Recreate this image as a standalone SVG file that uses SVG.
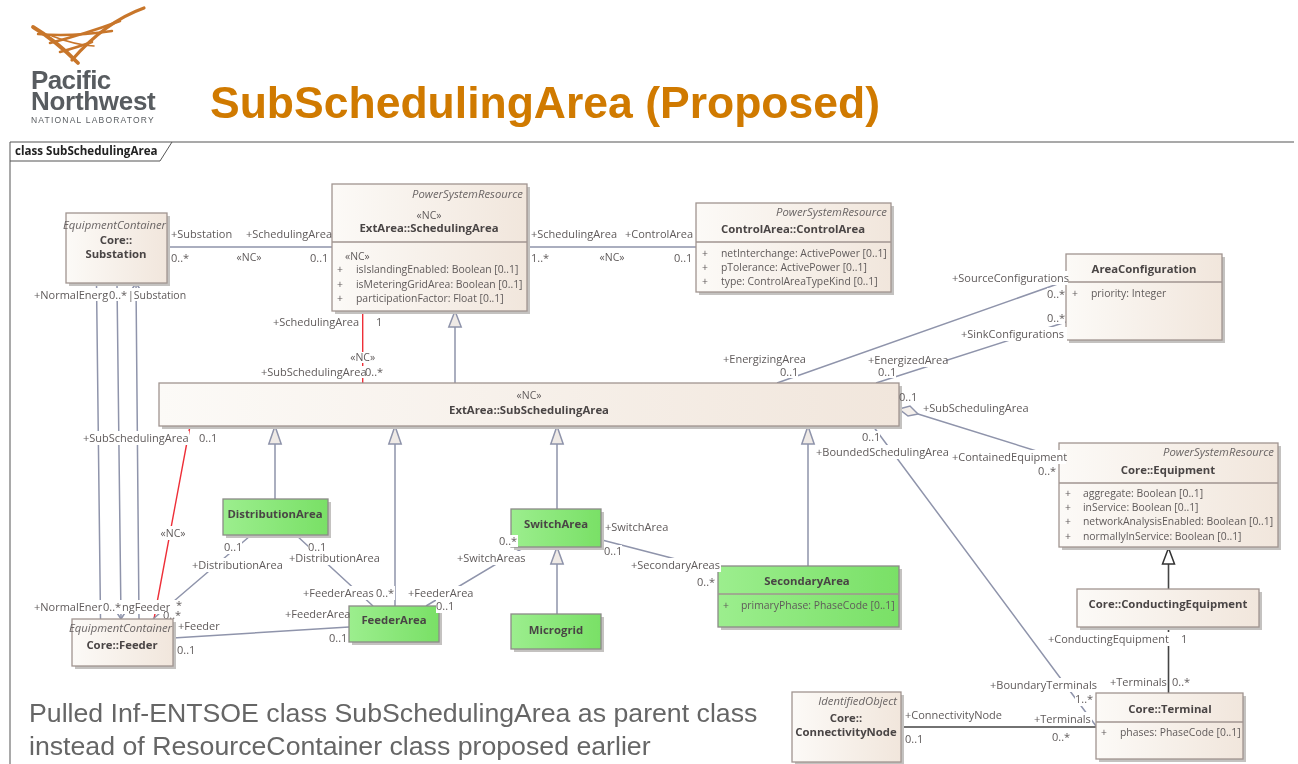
<svg xmlns="http://www.w3.org/2000/svg" width="1298" height="764" viewBox="0 0 1298 764">
<style>
text{font-family:"Open Sans","Liberation Sans",sans-serif;font-size:11px;fill:#5f5a5a}
.b{font-weight:700;fill:#4a4545;text-anchor:middle;font-size:11.35px}
.i{font-style:italic;text-anchor:end;fill:#6a6565;font-size:11.3px}
.a{font-size:10.4px}
.m{text-anchor:middle;font-size:10.5px}
.lf{font-family:"Liberation Sans",sans-serif;fill:#585c60}
.n{stroke:#a09490;stroke-width:1.3;fill:url(#cream)}
.g{stroke:#8c8a88;stroke-width:1.3;fill:url(#green)}
.s{fill:#c4c2c0}
.d{stroke:#a09490;stroke-width:1.3;fill:none}
.c{stroke:#8f94ab;stroke-width:1.5;fill:none}
.k{stroke:#454545;stroke-width:1.6;fill:none}
.r{stroke:#ee2f38;stroke-width:1.4;fill:none}
.t{fill:#efeae6;stroke:#8f94ab;stroke-width:1.5}
.w{fill:#fff}
.lg{stroke:#c8762c;fill:none;stroke-linecap:round}
</style>
<defs>
<linearGradient id="cream" x1="0" x2="1" y1="0" y2="0"><stop offset="0" stop-color="#fcfaf7"/><stop offset="1" stop-color="#f1e6dc"/></linearGradient>
<linearGradient id="green" x1="0" x2="1" y1="0" y2="0"><stop offset="0" stop-color="#9cee8e"/><stop offset="1" stop-color="#79e066"/></linearGradient>
<filter id="soft" x="0" y="0" width="100%" height="100%" filterUnits="userSpaceOnUse"><feGaussianBlur stdDeviation="0.4"/></filter>
</defs>
<rect width="1298" height="764" fill="#fff"/>
<g filter="url(#soft)">
<g id="logo">
<path class="lg" stroke-width="3.200" d="M144 8 Q105 22 72 60"/>
<path class="lg" stroke-width="3.800" d="M33 27 Q55 40 78 63"/>
<path class="lg" stroke-width="2.400" d="M38 34 Q70 37 112 31"/>
<path class="lg" stroke-width="2.600" d="M50 43 Q85 34 120 21"/>
<path class="lg" stroke-width="2.600" d="M60 52 Q78 47 92 42"/>
<path class="lg" stroke-width="1.600" d="M52 36 Q75 45 94 46"/>
</g>
<text class="lf" x="31" y="89" style="font-size:26px;font-weight:700;letter-spacing:-.6px">Pacific</text>
<text class="lf" x="31" y="110" style="font-size:26px;font-weight:700;letter-spacing:-.3px">Northwest</text>
<text class="lf" x="31" y="123" style="font-size:8.500px;letter-spacing:1.200px">NATIONAL LABORATORY</text>
<text x="210" y="118" style="font-family:'Liberation Sans',sans-serif;font-size:44.500px;font-weight:700;fill:#d07a00">SubSchedulingArea (Proposed)</text>
<text x="29" y="722" style="font-family:'Liberation Sans',sans-serif;font-size:26.700px;fill:#666">Pulled Inf-ENTSOE class SubSchedulingArea as parent class</text>
<text x="29" y="755" style="font-family:'Liberation Sans',sans-serif;font-size:26.700px;fill:#666">instead of ResourceContainer class proposed earlier</text>
<g id="frame">
<path d="M10 764V142H1294" fill="none" stroke="#555" stroke-width="1"/>
<path d="M10 161H160L172 142" fill="none" stroke="#555" stroke-width="1"/>
<text x="15" y="155" style="font-weight:700;fill:#222;font-size:11.600px">class SubSchedulingArea</text>
</g>
<g id="connectors">
<path class="c" d="M167 247H332M527 247H696"/>
<path class="c" d="M96.500 283L100.500 619M117 283L121 619M136 283L139 619"/>
<path class="c" d="M131.500 290L136 283L140.500 290M116.500 612L121 619L125.500 612"/>
<path class="r" d="M362.700 311V383M190 426L154 619"/>
<path class="c" d="M250 536L153 619M296 535L373 606M523 548L426 606M602 540L718 570M173 638L349 627"/>
<path class="c" d="M1066 281L777 383M1066 322L876 383M918 414L1059 458M873 426L1096 726"/>
<path class="c" d="M275 444V499M395 444V606M557 444V509M808 444V566M557 564V614M455 327V383"/>
<path class="k" d="M1168.500 564V589M1168.500 627V693M901 727H1096"/>
<path class="t" d="M455 311L448.800 327H461.200ZM275 426L268.800 444H281.200ZM395 426L388.800 444H401.200ZM557 426L550.800 444H563.200ZM808 426L801.800 444H814.200ZM557 547L550.800 564H563.200Z"/>
<path d="M1168.500 548L1162.500 564H1174.500Z" fill="#fff" stroke="#333" stroke-width="1.500"/>
<path d="M899 409L910 406L918 414L908 416Z" fill="#f5f0ec" stroke="#8f94ab" stroke-width="1.500"/>
<rect class="w" x="160" y="608" width="22" height="11"/>
<text x="163" y="619">0..*</text>
</g>
<g id="substation"><rect class="s" x="69" y="216" width="101" height="70"/><rect class="n" x="66" y="213" width="101" height="70"/>
<text class="i" x="166" y="229">EquipmentContainer</text><text class="b" x="116" y="244">Core::</text><text class="b" x="116" y="258">Substation</text></g>
<g id="scheduling-area"><rect class="s" x="335" y="187" width="195" height="127"/><rect class="n" x="332" y="184" width="195" height="127"/><path class="d" d="M332 242H527"/>
<text class="i" x="523" y="198">PowerSystemResource</text><text class="m" x="429" y="219">«NC»</text><text class="b" x="429" y="232">ExtArea::SchedulingArea</text>
<text class="a" x="345" y="260">«NC»</text><text class="a" x="337" y="273">+</text><text class="a" x="356" y="273">isIslandingEnabled: Boolean [0..1]</text><text class="a" x="337" y="288">+</text><text class="a" x="356" y="288">isMeteringGridArea: Boolean [0..1]</text><text class="a" x="337" y="302">+</text><text class="a" x="356" y="302">participationFactor: Float [0..1]</text></g>
<g id="control-area"><rect class="s" x="699" y="206" width="195" height="89"/><rect class="n" x="696" y="203" width="195" height="89"/><path class="d" d="M696 242H891"/>
<text class="i" x="887" y="216">PowerSystemResource</text><text class="b" x="793" y="233">ControlArea::ControlArea</text>
<text class="a" x="702" y="257">+</text><text class="a" x="721" y="257">netInterchange: ActivePower [0..1]</text><text class="a" x="702" y="271">+</text><text class="a" x="721" y="271">pTolerance: ActivePower [0..1]</text><text class="a" x="702" y="285">+</text><text class="a" x="721" y="285">type: ControlAreaTypeKind [0..1]</text></g>
<g id="area-configuration"><rect class="s" x="1069" y="257" width="156" height="86"/><rect class="n" x="1066" y="254" width="156" height="86"/><path class="d" d="M1066 282H1222"/>
<text class="b" x="1144" y="273">AreaConfiguration</text><text class="a" x="1072" y="297">+</text><text class="a" x="1091" y="297">priority: Integer</text></g>
<g id="sub-scheduling-area"><rect class="s" x="162" y="386" width="740" height="43"/><rect class="n" x="159" y="383" width="740" height="43"/>
<text class="m" x="529" y="399">«NC»</text><text class="b" x="529" y="414">ExtArea::SubSchedulingArea</text></g>
<g id="equipment"><rect class="s" x="1062" y="446" width="219" height="104"/><rect class="n" x="1059" y="443" width="219" height="104"/><path class="d" d="M1059 483H1278"/>
<text class="i" x="1274" y="456">PowerSystemResource</text><text class="b" x="1168" y="474">Core::Equipment</text>
<text class="a" x="1065" y="497">+</text><text class="a" x="1083" y="497">aggregate: Boolean [0..1]</text><text class="a" x="1065" y="511">+</text><text class="a" x="1083" y="511">inService: Boolean [0..1]</text><text class="a" x="1065" y="525">+</text><text class="a" x="1083" y="525">networkAnalysisEnabled: Boolean [0..1]</text><text class="a" x="1065" y="540">+</text><text class="a" x="1083" y="540">normallyInService: Boolean [0..1]</text></g>
<g id="conducting-equipment"><rect class="s" x="1080" y="592" width="182" height="38"/><rect class="n" x="1077" y="589" width="182" height="38"/>
<text class="b" x="1168" y="608">Core::ConductingEquipment</text></g>
<g id="terminal"><rect class="s" x="1099" y="696" width="147" height="66"/><rect class="n" x="1096" y="693" width="147" height="66"/><path class="d" d="M1096 722H1243"/>
<text class="b" x="1170" y="713">Core::Terminal</text><text class="a" x="1101" y="736">+</text><text class="a" x="1120" y="736">phases: PhaseCode [0..1]</text></g>
<g id="connectivity-node"><rect class="s" x="795" y="695" width="109" height="70"/><rect class="n" x="792" y="692" width="109" height="70"/>
<text class="i" x="897" y="705">IdentifiedObject</text><text class="b" x="846" y="722">Core::</text><text class="b" x="846" y="736">ConnectivityNode</text></g>
<g id="feeder"><rect class="s" x="75" y="622" width="101" height="47"/><rect class="n" x="72" y="619" width="101" height="47"/>
<text class="i" x="172" y="632">EquipmentContainer</text><text class="b" x="122" y="649">Core::Feeder</text></g>
<g id="distribution-area"><rect class="s" x="226" y="502" width="105" height="36"/><rect class="g" x="223" y="499" width="105" height="36"/><text class="b" x="275" y="518">DistributionArea</text></g>
<g id="feeder-area"><rect class="s" x="352" y="609" width="90" height="36"/><rect class="g" x="349" y="606" width="90" height="36"/><text class="b" x="394" y="624">FeederArea</text></g>
<g id="switch-area"><rect class="s" x="514" y="512" width="90" height="38"/><rect class="g" x="511" y="509" width="90" height="38"/><text class="b" x="556" y="528">SwitchArea</text></g>
<g id="microgrid"><rect class="s" x="514" y="617" width="90" height="35"/><rect class="g" x="511" y="614" width="90" height="35"/><text class="b" x="556" y="634">Microgrid</text></g>
<g id="secondary-area"><rect class="s" x="721" y="569" width="181" height="61"/><rect class="g" x="718" y="566" width="181" height="61"/><path class="d" d="M718 594H899"/>
<text class="b" x="807" y="585">SecondaryArea</text><text class="a" x="723" y="609">+</text><text class="a" x="741" y="609">primaryPhase: PhaseCode [0..1]</text></g>
<g id="connector-label-backgrounds">
<rect class="w" x="34" y="288" width="152" height="13"/>
<rect class="w" x="83" y="431" width="106" height="14"/>
<rect class="w" x="34" y="600" width="148" height="8"/>
<rect class="w" x="34" y="600" width="130" height="14"/>
<rect class="w" x="160" y="526" width="28" height="14"/>
<rect class="w" x="261" y="366" width="122" height="12"/>
<rect class="w" x="350" y="352" width="26" height="11"/>
<rect class="w" x="192" y="558" width="90" height="14"/>
<rect class="w" x="224" y="541" width="18" height="13"/>
<rect class="w" x="289" y="551" width="90" height="14"/>
<rect class="w" x="308" y="541" width="18" height="10"/>
<rect class="w" x="303" y="586" width="92" height="14"/>
<rect class="w" x="408" y="586" width="66" height="14"/>
<rect class="w" x="436" y="599" width="20" height="14"/>
<rect class="w" x="457" y="551" width="68" height="14"/>
<rect class="w" x="499" y="535" width="19" height="12"/>
<rect class="w" x="604" y="545" width="18" height="12"/>
<rect class="w" x="631" y="558" width="90" height="14"/>
<rect class="w" x="780" y="366" width="18" height="12"/>
<rect class="w" x="868" y="353" width="78" height="14"/>
<rect class="w" x="878" y="366" width="18" height="12"/>
<rect class="w" x="952" y="271" width="116" height="14"/>
<rect class="w" x="1047" y="288" width="18" height="13"/>
<rect class="w" x="1047" y="312" width="18" height="12"/>
<rect class="w" x="961" y="327" width="106" height="14"/>
<rect class="w" x="862" y="431" width="18" height="13"/>
<rect class="w" x="816" y="445" width="132" height="14"/>
<rect class="w" x="952" y="450" width="114" height="14"/>
<rect class="w" x="1048" y="632" width="124" height="14"/>
<rect class="w" x="990" y="678" width="105" height="14"/>
<rect class="w" x="1075" y="693" width="18" height="13"/>
<rect class="w" x="1034" y="712" width="58" height="14"/>
</g>
<g id="connector-labels">
<text x="171" y="238">+Substation</text><text x="246" y="238">+SchedulingArea</text>
<text x="171" y="262">0..*</text><text class="m" x="249" y="261">«NC»</text><text x="310" y="262">0..1</text>
<text x="531" y="238">+SchedulingArea</text><text x="625" y="238">+ControlArea</text>
<text x="531" y="262">1..*</text><text class="m" x="612" y="261">«NC»</text><text x="674" y="262">0..1</text>
<text x="34" y="299">+NormalEnerg</text><text x="109" y="299">0..*</text><text x="128" y="299" style="font-size:10.5px">|Substation</text>
<text x="273" y="326">+SchedulingArea</text><text x="376" y="326">1</text>
<text class="m" x="362.700" y="361">«NC»</text><text x="261" y="376">+SubSchedulingArea</text><text x="365" y="376">0..*</text>
<text x="83" y="442">+SubSchedulingArea</text><text x="199" y="442">0..1</text>
<text class="m" x="173" y="537">«NC»</text>
<text x="34" y="611">+NormalEner</text><text x="103" y="611">0..*</text><text x="122" y="611">ngFeeder</text><text x="176" y="609">*</text>
<text x="178" y="630">+Feeder</text><text x="177" y="654">0..1</text>
<text x="224" y="551">0..1</text><text x="192" y="569">+DistributionArea</text>
<text x="308" y="551">0..1</text><text x="289" y="562">+DistributionArea</text>
<text x="303" y="597">+FeederAreas</text><text x="376" y="597">0..*</text>
<text x="408" y="597">+FeederArea</text><text x="436" y="610">0..1</text>
<text x="285" y="618">+FeederArea</text><text x="329" y="642">0..1</text>
<text x="605" y="531">+SwitchArea</text><text x="604" y="555">0..1</text>
<text x="631" y="569">+SecondaryAreas</text><text x="697" y="586">0..*</text>
<text x="499" y="545">0..*</text><text x="457" y="562">+SwitchAreas</text>
<text x="723" y="363">+EnergizingArea</text><text x="780" y="376">0..1</text>
<text x="868" y="364">+EnergizedArea</text><text x="878" y="376">0..1</text>
<text x="952" y="282">+SourceConfigurations</text><text x="1047" y="298">0..*</text>
<text x="1047" y="322">0..*</text><text x="961" y="338">+SinkConfigurations</text>
<text x="899" y="401">0..1</text><text x="923" y="412">+SubSchedulingArea</text>
<text x="862" y="441">0..1</text><text x="816" y="456">+BoundedSchedulingArea</text>
<text x="952" y="461">+ContainedEquipment</text><text x="1038" y="475">0..*</text>
<text x="1048" y="643">+ConductingEquipment</text><text x="1181" y="643">1</text>
<text x="1110" y="686">+Terminals</text><text x="1172" y="686">0..*</text>
<text x="990" y="689">+BoundaryTerminals</text><text x="1075" y="703">1..*</text>
<text x="1034" y="723">+Terminals</text><text x="1052" y="741">0..*</text>
<text x="905" y="719">+ConnectivityNode</text><text x="905" y="743">0..1</text>
</g>
</g>
</svg>
